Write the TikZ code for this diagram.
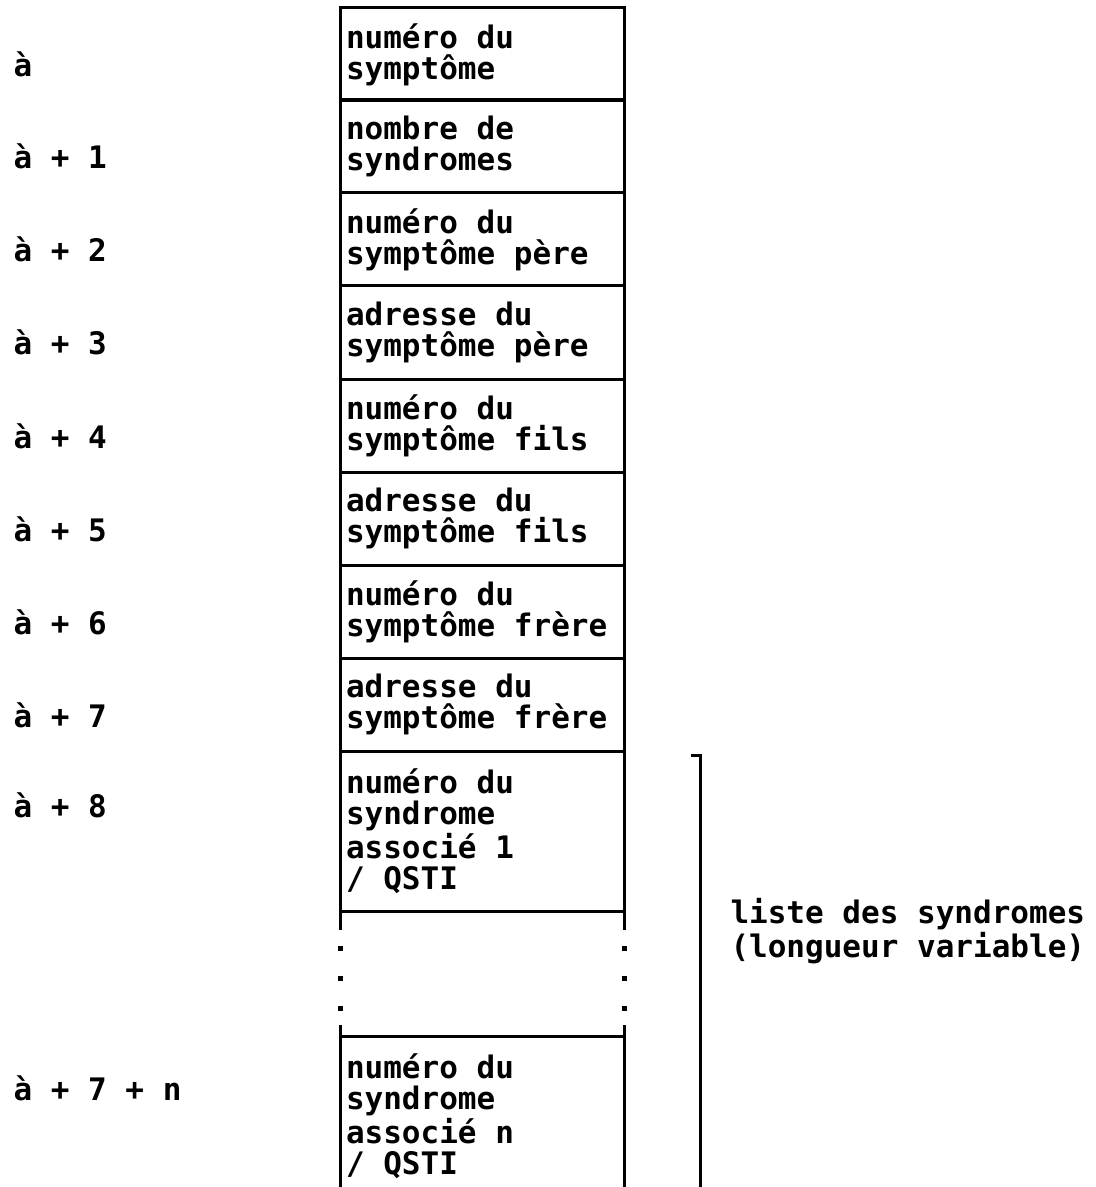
\documentclass[tikz,border=0pt]{standalone}
\usepackage{fontspec}
\setmonofont{DejaVu Sans Mono}
\usetikzlibrary{positioning, calc}
\newcommand{\cellfont}{\ttfamily\bfseries\fontsize{15.5}{15.5}\selectfont}
\tikzset{
  cell/.style={draw, anchor=north west, align=flush left, font=\cellfont,
               text width=136pt, inner xsep=3pt, inner ysep=0pt, outer sep=0pt,
               minimum height=#1},
  cell/.default=46.5pt,
  addr/.style={anchor=base west, font=\cellfont, inner sep=0pt},
  lbl/.style={anchor=west, align=flush left, font=\cellfont, inner sep=0pt},
  dot/.style={fill=black, minimum size=2.5pt, inner sep=0pt, outer sep=0pt},
}

\begin{document}
\begin{tikzpicture}[x=0.5pt, y=-0.5pt, line width=1.5pt]
  \useasboundingbox (0,0) rectangle (1096,1187);

  % fixed part of the record
  \foreach \i/\yt/\txt/\ad in {
      0/8/{numéro du\\symptôme}/{à},
      1/100/{nombre de\\syndromes}/{à + 1},
      2/193/{numéro du\\symptôme père}/{à + 2},
      3/286/{adresse du\\symptôme père}/{à + 3},
      4/379/{numéro du\\symptôme fils}/{à + 4},
      5/472/{adresse du\\symptôme fils}/{à + 5},
      6/565/{numéro du\\symptôme frère}/{à + 6},
      7/658/{adresse du\\symptôme frère}/{à + 7}}
  {
    \node[cell] (c\i) at (340,\yt) {\txt};
    \node[addr] (a\i) at (12,\yt+69) {\ad};
  }

  % list of syndromes
  \node[cell=80pt] (c8) at (340,751)
    {numéro du\\syndrome\\associé 1\\/ QSTI};
  \node[addr] (a8) at (12,817) {à + 8};

  \node[cell=80pt, draw=none] (cn) at (340,1036)
    {numéro du\\syndrome\\associé n\\/ QSTI};
  \draw (cn.south west) -- (cn.north west) -- (cn.north east) -- (cn.south east);
  \node[addr] (an) at (12,1100) {à + 7 + n};

  % broken part
  \draw (c8.south west) -- ++(0,19);
  \draw (c8.south east) -- ++(0,19);
  \draw (cn.north west) -- ++(0,-11);
  \draw (cn.north east) -- ++(0,-11);
  \foreach \d in {37, 67, 97} {
    \node[dot] at ($(c8.south west)+(0,\d)$) {};
    \node[dot] at ($(c8.south east)+(0,\d)$) {};
  }

  % bracket
  \draw (691,755) -- (700,755) -- (700,1200);
  \node[lbl] (lst) at (729,931) {liste des syndromes\\(longueur variable)};
\end{tikzpicture}
\end{document}
